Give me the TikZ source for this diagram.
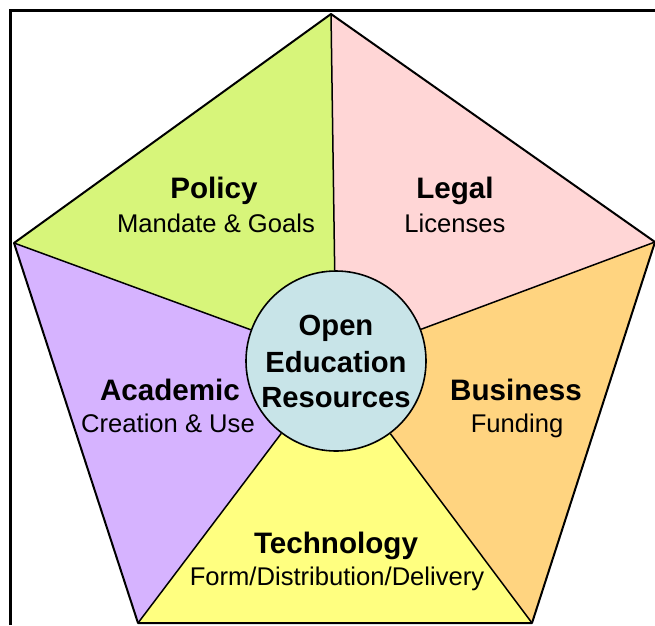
\documentclass[tikz,border=0pt]{standalone}
\usepackage{fontspec}
\setmainfont{Liberation Sans}
\definecolor{policyc}{HTML}{D7F57A}
\definecolor{legalc}{HTML}{FFD6D6}
\definecolor{businessc}{HTML}{FFD480}
\definecolor{techc}{HTML}{FFFF80}
\definecolor{academicc}{HTML}{D6B3FF}
\definecolor{oerc}{HTML}{C8E4E8}
\begin{document}
\begin{tikzpicture}[x=1pt,y=-1pt,
  edge/.style={draw=black,line width=2pt,line join=round},
  divider/.style={draw=black,line width=1.5pt},
  frameline/.style={draw=black,line width=3pt},
  titletext/.style={anchor=base,inner sep=0pt,font=\fontsize{29.6}{34}\selectfont\bfseries},
  subtext/.style={anchor=base,inner sep=0pt,font=\fontsize{25.6}{30}\selectfont},
  hub/.style={circle,draw=black,line width=1.6pt,fill=oerc,minimum size=180pt,inner sep=0pt},
  hubtext/.style={anchor=base,inner sep=0pt,font=\fontsize{29.2}{36}\selectfont\bfseries}]
\useasboundingbox (0,0) rectangle (655,625);
\fill[white] (0,0) rectangle (655,625);
\coordinate (C) at (336,361);
\coordinate (T) at (331,14);
\coordinate (R) at (655,242);
\coordinate (BR) at (532,623);
\coordinate (BL) at (138,623);
\coordinate (L) at (14,243);
% sectors
\fill[policyc] (C) -- (L) -- (T) -- cycle;
\fill[legalc] (C) -- (T) -- (R) -- cycle;
\fill[businessc] (C) -- (R) -- (BR) -- cycle;
\fill[techc] (C) -- (BR) -- (BL) -- cycle;
\fill[academicc] (C) -- (BL) -- (L) -- cycle;
% hub
\node[hub] (oer) at (C) {};
% dividers
\draw[divider] (T) -- (oer);
\draw[divider] (R) -- (oer);
\draw[divider] (BR) -- (oer);
\draw[divider] (BL) -- (oer);
\draw[divider] (L) -- (oer);
% outline
\draw[edge] (T) -- (R) -- (BR) -- (BL) -- (L) -- cycle;
% frame
\draw[frameline] (10,625) -- (10,10) -- (655,10);
% hub text
\node[hubtext] (oer1) at (336,335) {Open};
\node[hubtext] (oer2) at (336,372) {Education};
\node[hubtext] (oer3) at (336,407) {Resources};
% sector texts
\node[titletext] (policyT) at (214,198) {Policy};
\node[subtext] (policyS) at (216,232) {Mandate \& Goals};
\node[titletext] (legalT) at (455,198) {Legal};
\node[subtext] (legalS) at (455,232) {Licenses};
\node[titletext] (businessT) at (516,400) {Business};
\node[subtext] (businessS) at (517,432) {Funding};
\node[titletext] (techT) at (336,553) {Technology};
\node[subtext] (techS) at (337,585) {Form/Distribution/Delivery};
\node[titletext] (academicT) at (170,400) {Academic};
\node[subtext] (academicS) at (168,432) {Creation \& Use};
\end{tikzpicture}
\end{document}
